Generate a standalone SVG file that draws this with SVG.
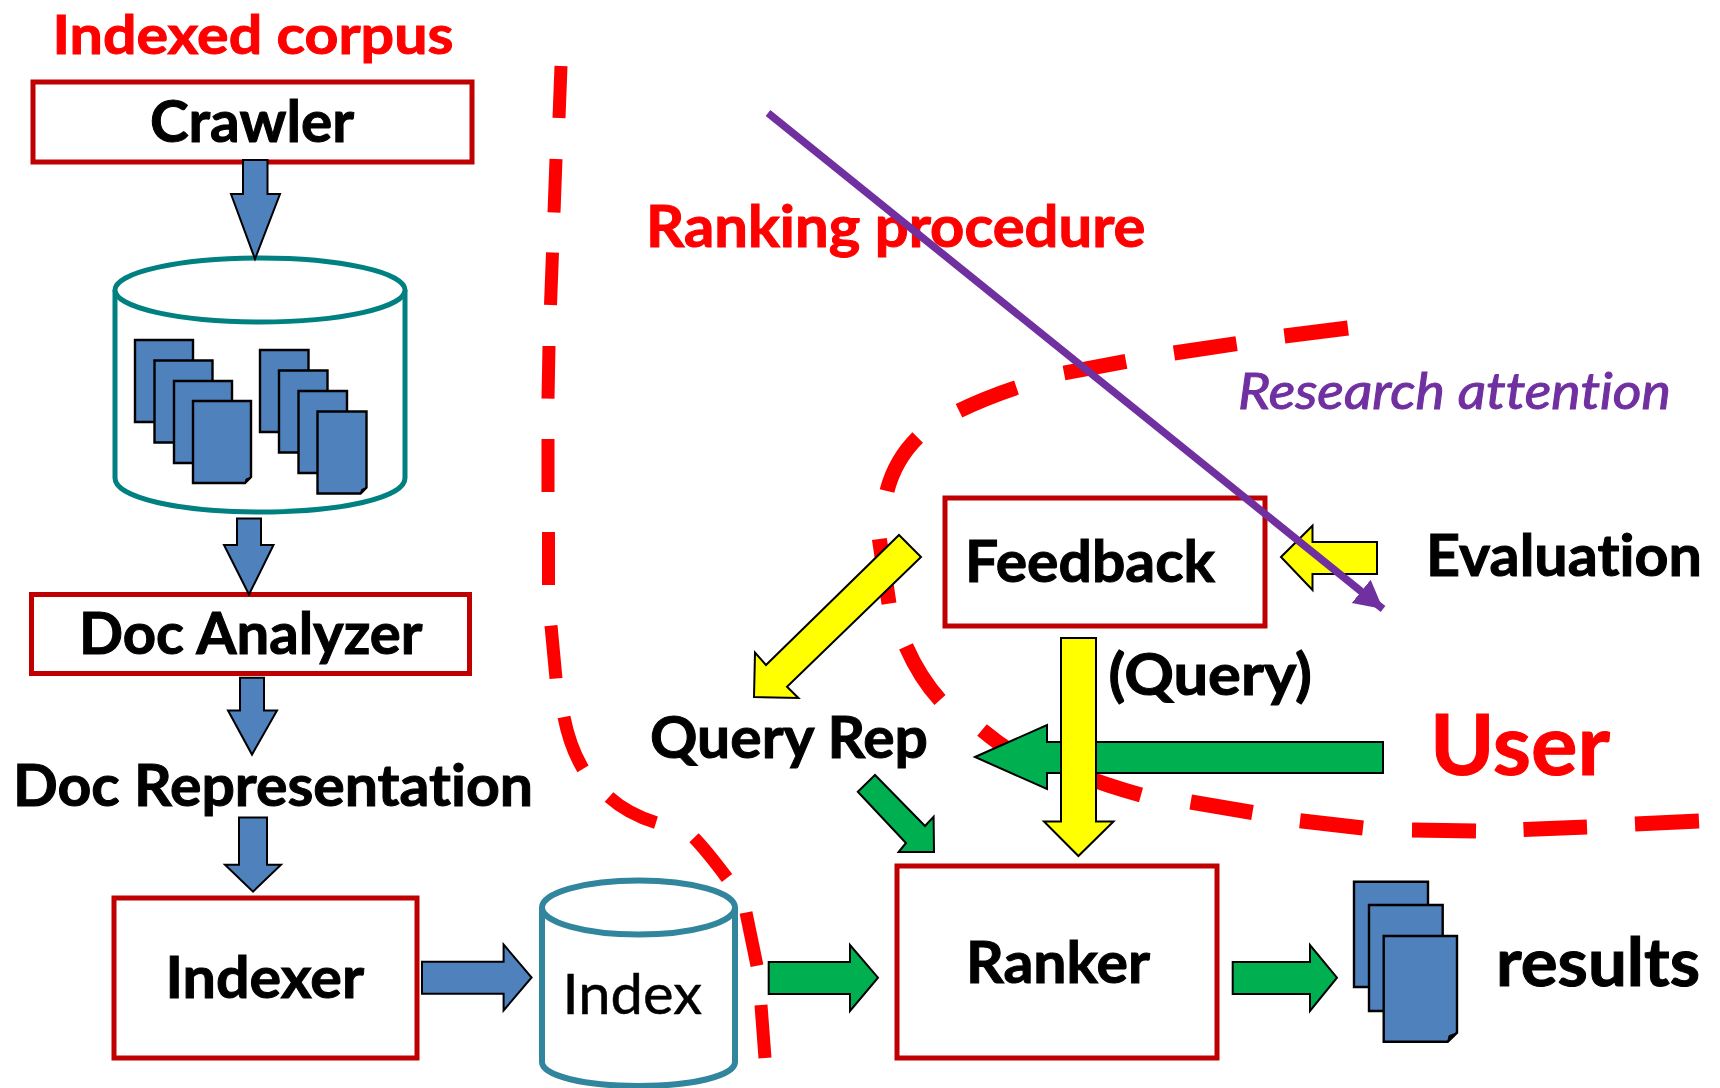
<svg xmlns="http://www.w3.org/2000/svg" width="1720" height="1088" viewBox="0 0 1720 1088">
<style>
text{font-family:"Lato","Carlito","Liberation Sans",sans-serif;font-weight:700;fill:#000;stroke:#000;stroke-width:1;font-size:57px;font-variant-ligatures:none}
.red{fill:#f00;stroke:#f00}
.box{fill:#fff;stroke:#c00000;stroke-width:5}
.cyl{fill:#fff;stroke:#008080;stroke-width:5}
.cyl2{fill:#fff;stroke:#31859c;stroke-width:6}
.doc{fill:#4f81bd;stroke:#000;stroke-width:2.400}
.fold{fill:#000;stroke:#000;stroke-width:1}
.blue{fill:#4f81bd;stroke:#000;stroke-width:2}
.green{fill:#00b050;stroke:#000;stroke-width:2}
.yellow{fill:#ff0;stroke:#000;stroke-width:2}
.dash{fill:none;stroke:#f00}
</style>
<defs>
<marker id="ph" markerUnits="userSpaceOnUse" markerWidth="32" markerHeight="32" refX="28" refY="15" orient="auto"><path d="M0,0L28,15L0,30Z" fill="#7030a0"/></marker>
</defs>
<g id="boundaries">
<path class="dash" stroke-width="13" d="M561,66L559,118M556,159L554,212.500M552.500,252.500L550.500,305M549,346L548,398.600M548,439L548,492M548.500,532L548.500,585M551,625.600L556,678.500M564,717Q570,747 583,768.800M609,797Q628,814 656,822.600M694,837.800Q706,850 727,878M746,912.500L757,965.700M761,1005L765,1058"/>
<path class="dash" stroke-width="15" d="M1348,328L1284.400,336M1236.600,343.600L1174,353M1126,361.400L1064,373M1016.500,387.500Q985,398 959,410.700M917.700,437.500Q895,460 887,491M879.400,539L889,603.600M906,646.400Q920,678 940,700M982,730Q1000,745 1020,757M1075,773Q1105,785 1141,795M1190.700,802L1252.500,812.500M1300,820.700L1363,828M1412,830L1476,831M1523.500,829.600L1587,827M1635,824L1699,821"/>
</g>
<g id="crawler"><rect class="box" x="33" y="82" width="439" height="80"/><text x="150" y="142" textLength="204" lengthAdjust="spacingAndGlyphs">Crawler</text></g>
<g id="corpus-db">
<path class="cyl" d="M115,290V478C115,498 180,512 260,512C340,512 405,498 405,478V290"/>
<ellipse class="cyl" cx="260" cy="290" rx="145" ry="32"/>
<path class="doc" d="M135,340h58v82h-58z"/><path class="doc" d="M154.500,360.500h58v82h-58z"/><path class="doc" d="M174,381h58v82h-58z"/>
<path class="doc" d="M193,401h58v76l-6,6h-52z"/><path class="fold" d="M251,477l-6,6l1,-4z"/>
<path class="doc" d="M260,350h48.500v82h-48.500z"/><path class="doc" d="M279,370.500h48.500v82h-48.500z"/><path class="doc" d="M298.500,391h48.500v82h-48.500z"/>
<path class="doc" d="M317.500,411.500h49v76l-6,6h-43z"/><path class="fold" d="M366.500,487.500l-6,6l1,-4z"/>
</g>
<g id="doc-analyzer"><rect class="box" x="31.500" y="594.500" width="438" height="79"/><text x="79" y="654" textLength="343.500" lengthAdjust="spacingAndGlyphs">Doc Analyzer</text></g>
<g id="doc-representation"><text x="13" y="805.800" textLength="520" lengthAdjust="spacingAndGlyphs">Doc Representation</text></g>
<g id="indexer"><rect class="box" x="114" y="898" width="303" height="160"/><text x="165.500" y="997.700" textLength="198.500" lengthAdjust="spacingAndGlyphs">Indexer</text></g>
<g id="index">
<path class="cyl2" d="M542,907.500V1062C542,1076 585,1086 638.500,1086C692,1086 735,1076 735,1062V907.500"/>
<ellipse class="cyl2" cx="638.500" cy="907.500" rx="96.500" ry="27"/>
<text x="562.500" y="1014" textLength="139.500" lengthAdjust="spacingAndGlyphs" style="font-weight:400;stroke-width:.5">Index</text>
</g>
<g id="ranker"><rect class="box" x="897" y="866" width="320" height="192"/><text x="966" y="982.500" textLength="184" lengthAdjust="spacingAndGlyphs">Ranker</text></g>
<g id="results">
<path class="doc" d="M1354,881.700h74v105.300h-74z"/><path class="doc" d="M1369,905h73.700v106h-73.700z"/>
<path class="doc" d="M1383.700,936h73.300v96.700l-9.300,9h-64z"/><path class="fold" d="M1457,1032.700l-9.300,9l1.300,-6z"/>
<text x="1496" y="986" textLength="204" lengthAdjust="spacingAndGlyphs" style="font-size:66px">results</text>
</g>
<g id="feedback"><rect class="box" x="945" y="498" width="320" height="128"/><text x="965" y="581.500" textLength="250" lengthAdjust="spacingAndGlyphs">Feedback</text></g>
<g id="labels">
<text class="red" x="52.500" y="53.500" textLength="401" lengthAdjust="spacingAndGlyphs" style="font-size:54px">Indexed corpus</text>
<text class="red" x="646" y="246.500" textLength="499.500" lengthAdjust="spacingAndGlyphs">Ranking procedure</text>
<text x="1238" y="409" textLength="433" lengthAdjust="spacingAndGlyphs" style="font-style:italic;font-weight:400;fill:#7030a0;stroke:#7030a0;stroke-width:1;font-size:50px">Research attention</text>
<text x="1426" y="575.500" textLength="276" lengthAdjust="spacingAndGlyphs">Evaluation</text>
<text x="1108.500" y="694.500" textLength="203.500" lengthAdjust="spacingAndGlyphs">(Query)</text>
<text class="red" x="1430" y="775" textLength="180" lengthAdjust="spacingAndGlyphs" style="font-size:84px">User</text>
<text x="650" y="757.500" textLength="278" lengthAdjust="spacingAndGlyphs">Query Rep</text>
</g>
<g id="connectors">
<polygon class="blue" points="243,160 267.500,160 267.500,194 280,194 255,259 231,194 243,194"/>
<polygon class="blue" points="237,518.500 261,518.500 261,545 273.500,545 249,594.500 224,545 237,545"/>
<polygon class="blue" points="240,677.800 264,677.800 264,710.500 277,710.500 252,754.600 228,710.500 240,710.500"/>
<polygon class="blue" points="239,817.600 267,817.600 267,864.700 281,864.700 253,891.700 225,864.700 239,864.700"/>
<polygon class="blue" points="422,961.700 503.600,961.700 503.600,944.500 531.600,977.500 503.600,1010.500 503.600,993.700 422,993.700"/>
<polygon class="green" points="768.700,962 850,962 850,945 878,977.700 850,1011 850,994 768.700,994"/>
<polygon class="green" points="1232.700,962 1310,962 1310,945 1337,977.700 1310,1011 1310,994 1232.700,994"/>
<polygon class="green" points="975,757 1047,725 1047,742 1383,742 1383,773 1047,773 1047,789"/>
<polygon class="green" points="875,775 857.800,791.800 906,843 898.600,852 934,852 933.600,816.800 925,826"/>
<polygon class="yellow" points="899,535 921,557 787,686.800 798.400,698 754,697 755,652.500 766,665"/>
<polygon class="yellow" points="1281,557 1312.500,525.700 1312.500,542 1377,542 1377,574 1312.500,574 1312.500,590"/>
<polygon class="yellow" points="1061,638 1096,638 1096,821.400 1113.500,821.400 1078.400,856 1044,821.400 1061,821.400"/>
<line x1="768" y1="113" x2="1383" y2="609" stroke="#7030a0" stroke-width="7.500" marker-end="url(#ph)"/>
</g>
</svg>
